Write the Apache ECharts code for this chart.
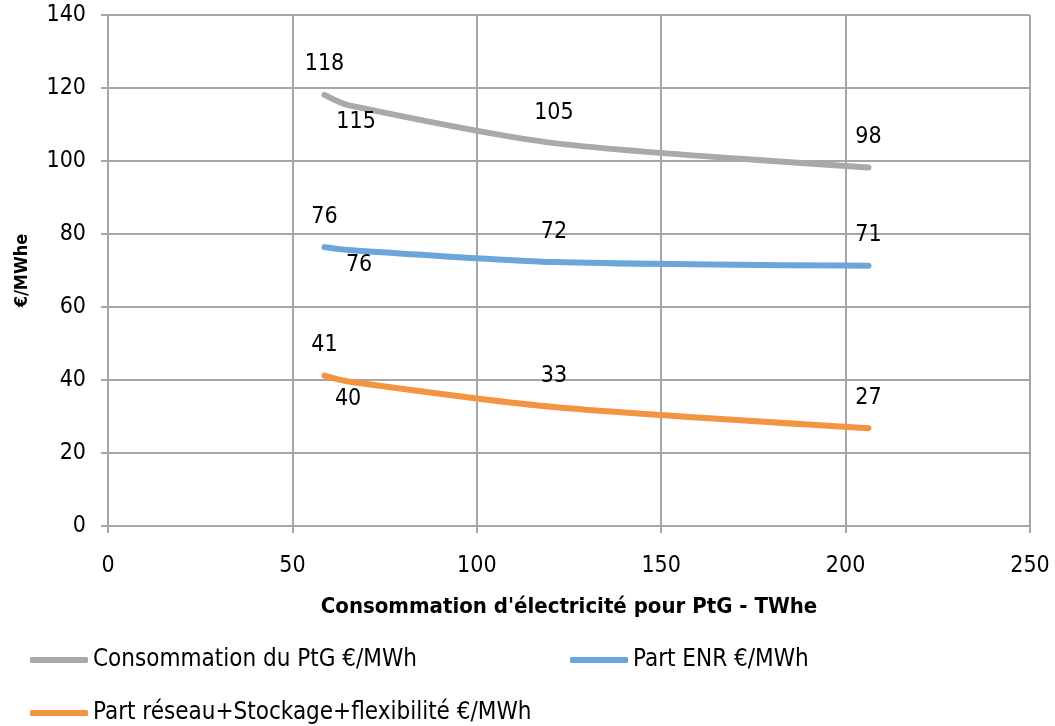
<!DOCTYPE html>
<html>
<head>
<meta charset="utf-8">
<script src="https://cdn.jsdelivr.net/npm/echarts@6/dist/echarts.min.js"></script>
<style>html,body{margin:0;padding:0;background:#fff;}#c{width:1055px;height:726px;}</style>
</head>
<body>
<div id="c"></div>
<script>
const xValues = [58.7, 65.1, 120.9, 206.2];
const consommation = [118.1, 115.3, 104.9, 98.2];
const partENR = [76.4, 75.6, 72.3, 71.3];
const partReseau = [41.2, 39.6, 32.6, 26.8];
const seriesNames = ['Consommation du PtG €/MWh', 'Part ENR €/MWh', 'Part réseau+Stockage+flexibilité €/MWh'];
const xTitle = "Consommation d'électricité pour PtG - TWhe";
const yTitle = '€/MWhe';

const FONT = "'DejaVu Sans Condensed', 'DejaVu Sans', sans-serif";
const FS = 23;
const chart = echarts.init(document.getElementById('c'));

function pts(ys) { return xValues.map((x, i) => [x, ys[i]]); }
function labelled(ys, belowOffset) {
  return pts(ys).map((p, i) => {
    const o = { value: p };
    if (i === 1) {
      o.label = { position: 'bottom', distance: 0, offset: belowOffset };
    }
    return o;
  });
}
const colors = ['#A9A9A9', '#6AA6DA', '#F39441'];
function mkSeries(name, ys, color, belowOffset) {
  return {
    name: name, type: 'line', data: labelled(ys, belowOffset), smooth: 0.25,
    showSymbol: true, symbol: 'circle', symbolSize: 0,
    lineStyle: { color: color, width: 6, cap: 'round' },
    itemStyle: { color: color },
    label: {
      show: true, position: 'top', distance: 19,
      formatter: p => String(Math.round(p.value[1])),
      color: '#000', fontFamily: FONT, fontSize: FS
    },
    emphasis: { disabled: true }, z: 3
  };
}

const legendCommon = {
  icon: 'roundRect', itemWidth: 58, itemHeight: 6, itemGap: 0, padding: 0,
  textStyle: { fontFamily: FONT, fontSize: 24, color: '#000' },
  selectedMode: false
};

chart.setOption({
  animation: false,
  backgroundColor: '#fff',
  grid: { left: 108, right: 25, top: 15, bottom: 200 },
  xAxis: {
    type: 'value', min: 0, max: 250, interval: 50,
    name: xTitle, nameLocation: 'middle', nameGap: 70,
    nameTextStyle: { fontFamily: FONT, fontSize: 22, fontWeight: 'bold', color: '#000' },
    axisLine: { show: true, lineStyle: { color: '#A6A6A6', width: 2 } },
    axisTick: { show: true, inside: false, length: 7, lineStyle: { color: '#A6A6A6', width: 2 } },
    axisLabel: { fontFamily: FONT, fontSize: FS, color: '#000', margin: 29 },
    splitLine: { show: true, lineStyle: { color: '#A6A6A6', width: 2 } }
  },
  yAxis: {
    type: 'value', min: 0, max: 140, interval: 20,
    name: yTitle, nameLocation: 'middle', nameGap: 77, nameRotate: 90,
    nameTextStyle: { fontFamily: FONT, fontSize: 18, fontWeight: 'bold', color: '#000' },
    axisLine: { show: true, lineStyle: { color: '#A6A6A6', width: 2 } },
    axisTick: { show: true, inside: false, length: 7, lineStyle: { color: '#A6A6A6', width: 2 } },
    axisLabel: { fontFamily: FONT, fontSize: FS, color: '#000', margin: 22 },
    splitLine: { show: true, lineStyle: { color: '#A6A6A6', width: 2 } }
  },
  legend: [
    Object.assign({ data: [seriesNames[0]], left: 30, top: 648 }, legendCommon),
    Object.assign({ data: [seriesNames[1]], left: 570, top: 648 }, legendCommon),
    Object.assign({ data: [seriesNames[2]], left: 30, top: 701 }, legendCommon)
  ],
  series: [
    mkSeries(seriesNames[0], consommation, colors[0], [8, 5]),
    mkSeries(seriesNames[1], partENR, colors[1], [11, 3]),
    mkSeries(seriesNames[2], partReseau, colors[2], [0, 6])
  ]
});
</script>
</body>
</html>
